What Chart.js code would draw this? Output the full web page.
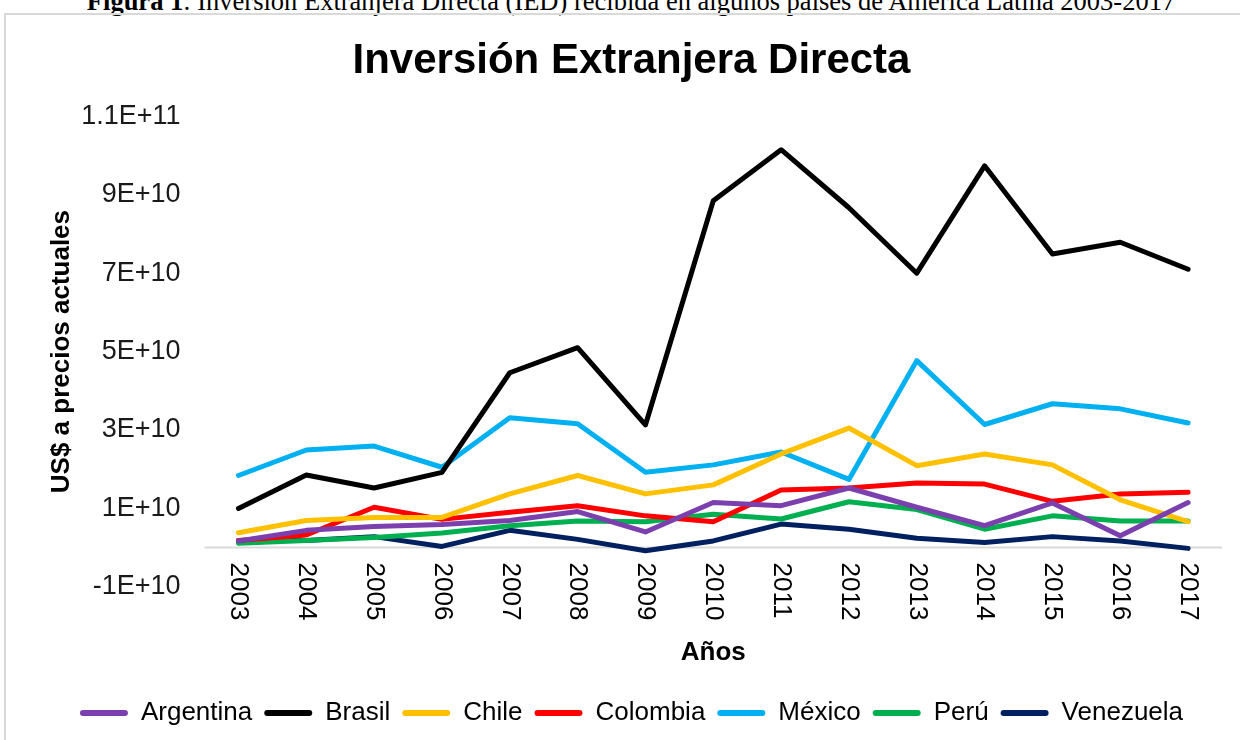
<!DOCTYPE html>
<html>
<head>
<meta charset="utf-8">
<script src="https://cdn.jsdelivr.net/npm/chart.js@4.4.1/dist/chart.umd.min.js"></script>
<style>
  html, body { margin: 0; padding: 0; background: #fff; overflow: hidden; }
  #caption {
    position: absolute; left: 11px; top: -12px; width: 1240px;
    text-align: center; font: 26.5px/26.5px 'Liberation Serif', 'Times New Roman', serif;
    color: #000; white-space: nowrap;
  }
  #frame {
    position: absolute; left: 4px; top: 13px; width: 1260px; height: 760px;
    border: 2px solid #d9d9d9; box-sizing: border-box;
  }
  #wrap { position: absolute; left: 0; top: 0; width: 1240px; height: 740px; }
</style>
</head>
<body>
<div id="caption"><b>Figura 1</b>: Inversión Extranjera Directa (IED) recibida en algunos países de América Latina 2003-2017</div>
<div id="frame"></div>
<div id="wrap"><canvas id="chart" width="1240" height="740"></canvas></div>
<script>
const years = ['2003', '2004', '2005', '2006', '2007', '2008', '2009', '2010',
    '2011', '2012', '2013', '2014', '2015', '2016', '2017'];

const argentina = [0.17e10, 0.44e10, 0.54e10, 0.59e10, 0.69e10, 0.92e10, 0.40e10, 1.15e10,
    1.07e10, 1.52e10, 1.03e10, 0.56e10, 1.14e10, 0.30e10, 1.15e10];
const brasil = [1.00e10, 1.85e10, 1.52e10, 1.92e10, 4.46e10, 5.10e10, 3.13e10, 8.85e10,
    10.15e10, 8.67e10, 7.00e10, 9.74e10, 7.49e10, 7.79e10, 7.10e10];
const chile = [0.38e10, 0.69e10, 0.77e10, 0.77e10, 1.37e10, 1.84e10, 1.37e10, 1.60e10,
    2.39e10, 3.05e10, 2.09e10, 2.39e10, 2.11e10, 1.22e10, 0.66e10];
const colombia = [0.18e10, 0.32e10, 1.03e10, 0.72e10, 0.90e10, 1.07e10, 0.81e10, 0.66e10,
    1.47e10, 1.52e10, 1.65e10, 1.62e10, 1.18e10, 1.37e10, 1.41e10];
const mexico = [1.84e10, 2.49e10, 2.59e10, 2.05e10, 3.31e10, 3.16e10, 1.92e10, 2.11e10,
    2.44e10, 1.74e10, 4.77e10, 3.14e10, 3.67e10, 3.54e10, 3.18e10];
const peru = [0.11e10, 0.18e10, 0.26e10, 0.37e10, 0.56e10, 0.68e10, 0.66e10, 0.85e10,
    0.73e10, 1.17e10, 0.97e10, 0.47e10, 0.81e10, 0.68e10, 0.68e10];
const venezuela = [0.18e10, 0.18e10, 0.28e10, 0.03e10, 0.44e10, 0.21e10, -0.08e10, 0.17e10,
    0.60e10, 0.47e10, 0.24e10, 0.13e10, 0.28e10, 0.17e10, -0.02e10];

const yMin = -1e10;
const yMax = 1.1e11;
const yStep = 2e10;

const FONT = "'Liberation Sans', Arial, sans-serif";
Chart.defaults.font.family = FONT;
Chart.defaults.color = '#000';

function line(label, data, color) {
    return {
        label: label,
        data: data,
        borderColor: color,
        backgroundColor: color,
        borderWidth: 5,
        borderCapStyle: 'round',
        borderJoinStyle: 'round',
        pointRadius: 0,
        tension: 0,
        fill: false
    };
}

// 1.1E+11 style labels
function sci(value) {
    if (value === 0) return '0';
    const exp = Math.floor(Math.log10(Math.abs(value)));
    const mant = parseFloat((value / Math.pow(10, exp)).toFixed(2));
    return mant + 'E+' + exp;
}

// zero line behind the series, year labels turned clockwise under it
const xAxisPlugin = {
    id: 'xAxisPlugin',
    beforeDatasetsDraw(chart) {
        const {ctx, chartArea, scales} = chart;
        const y0 = scales.y.getPixelForValue(0);
        ctx.save();
        ctx.strokeStyle = '#d9d9d9';
        ctx.lineWidth = 2;
        ctx.beginPath();
        ctx.moveTo(chartArea.left, y0);
        ctx.lineTo(chartArea.right, y0);
        ctx.stroke();
        ctx.restore();
    },
    afterDraw(chart) {
        const {ctx, scales} = chart;
        const y0 = scales.y.getPixelForValue(0);
        ctx.save();
        ctx.font = '26px ' + FONT;
        ctx.fillStyle = '#000';
        ctx.textAlign = 'left';
        ctx.textBaseline = 'middle';
        years.forEach((yr, i) => {
            const x = scales.x.getPixelForValue(i);
            ctx.save();
            ctx.translate(x, y0 + 15);
            ctx.rotate(Math.PI / 2);
            ctx.fillText(yr, 0, 0);
            ctx.restore();
        });
        ctx.restore();
    }
};

new Chart(document.getElementById('chart'), {
    type: 'line',
    data: {
        labels: years,
        datasets: [
            line('Argentina', argentina, '#7b3fae'),
            line('Brasil', brasil, '#000000'),
            line('Chile', chile, '#ffc000'),
            line('Colombia', colombia, '#ff0000'),
            line('México', mexico, '#00b0f0'),
            line('Perú', peru, '#00b050'),
            line('Venezuela', venezuela, '#002060')
        ]
    },
    options: {
        responsive: false,
        animation: false,
        layout: { padding: { left: 41, right: 18, top: 0, bottom: 4 } },
        plugins: {
            title: {
                display: true,
                text: 'Inversión Extranjera Directa',
                font: { size: 42, weight: 'bold' },
                padding: { top: 36, bottom: 30 }
            },
            legend: {
                position: 'bottom',
                labels: {
                    boxWidth: 48,
                    boxHeight: 6,
                    useBorderRadius: true,
                    borderRadius: 3,
                    padding: 12,
                    font: { size: 26 },
                    generateLabels(chart) {
                        return Chart.defaults.plugins.legend.labels.generateLabels(chart)
                            .map(l => Object.assign(l, { lineWidth: 0 }));
                    }
                }
            },
            tooltip: { enabled: false }
        },
        scales: {
            x: {
                offset: true,
                grid: { display: false, drawTicks: false },
                border: { display: false },
                ticks: { display: false },
                title: {
                    display: true,
                    text: 'Años',
                    font: { size: 26, weight: 'bold' },
                    padding: { top: 50, bottom: 20 }
                }
            },
            y: {
                min: yMin,
                max: yMax,
                grid: { display: false, drawTicks: false },
                border: { display: false },
                ticks: {
                    stepSize: yStep,
                    padding: 24,
                    font: { size: 27 },
                    color: '#1a1a1a',
                    callback: value => sci(value)
                },
                title: {
                    display: true,
                    text: 'US$ a precios actuales',
                    font: { size: 26, weight: 'bold' },
                    padding: { top: 5, bottom: -20 }
                }
            }
        }
    },
    plugins: [xAxisPlugin]
});
</script>
</body>
</html>
